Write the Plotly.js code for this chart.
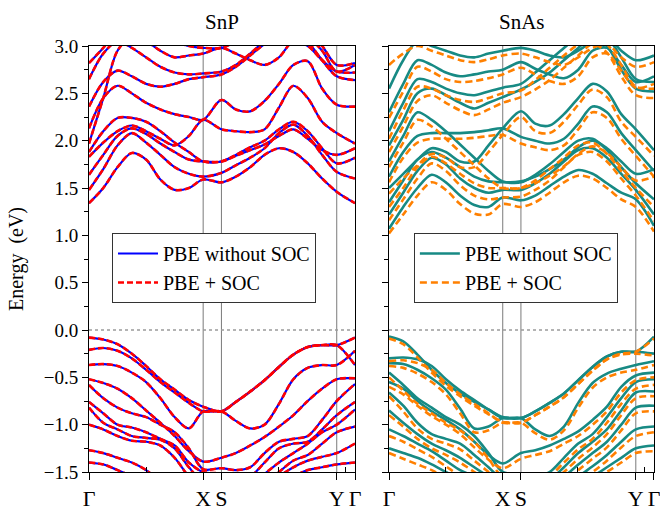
<!DOCTYPE html>
<html>
<head>
<meta charset="utf-8">
<script src="https://cdn.plot.ly/plotly-3.0.1.min.js"></script>
<style>html,body{margin:0;padding:0;background:#fff;}#chart{width:660px;height:511px;}</style>
</head>
<body>
<div id="chart"></div>
<script>
// k-path sample positions (Γ-X, X-S, S-Y, Y-Γ)
const kPath = [0, 0.125, 0.25, 0.375, 0.5, 0.625, 0.75, 0.875, 1.0, 1.16, 1.286, 1.412, 1.538, 1.664, 1.79, 1.916, 2.042, 2.17, 2.33];
const kSym = [0, 1.0, 1.16, 2.17, 2.33];
const kLabels = ['Γ', 'X', 'S', 'Y', 'Γ'];
const topMinorTicks = [0.235, 0.705, 1.175, 1.645, 2.115];
const topMajorTicks = [0.47, 0.94, 1.41, 1.88];
const bottomMinorTicks = [0.5, 1.66, 2.245];
const rightTicks = [2.54, 2.10, 1.66, 1.22, 0.78, 0.34, -0.10, -0.54, -0.98, -1.42];

// ---- SnP bands (PBE without SOC and PBE + SOC coincide) ----
const snpC1 = [1.34,1.50,1.72,1.87,1.80,1.59,1.48,1.50,1.59, 1.56,1.62,1.72,1.85,1.92,1.88,1.76,1.60,1.46,1.34];
const snpC2 = [1.48,1.70,1.95,2.08,1.98,1.85,1.72,1.65,1.62, 1.66,1.74,1.82,1.92,2.08,2.17,2.05,1.85,1.67,1.60];
const snpC3 = [1.64,1.85,2.05,2.13,2.07,1.97,1.88,1.80,1.78, 1.78,1.85,1.93,2.00,2.12,2.20,2.10,1.92,1.76,1.82];
const snpC4 = [1.83,1.98,2.10,2.16,2.10,2.02,1.95,2.05,2.22, 2.12,2.10,2.09,2.12,2.35,2.58,2.45,2.20,2.08,1.97];
const snpC5 = [1.88,2.10,2.24,2.24,2.20,2.10,1.98,1.88,1.78, 1.78,1.84,1.90,1.96,2.05,2.12,2.02,1.90,1.85,1.92];
const snpC6 = [2.13,2.45,2.58,2.50,2.40,2.33,2.28,2.25,2.22, 2.43,2.33,2.31,2.42,2.60,2.80,2.84,2.55,2.38,2.36];
const snpC7 = [2.36,2.62,2.74,2.68,2.60,2.57,2.60,2.65,2.67, 2.70,2.78,2.90,3.02,3.10,3.20,3.10,2.95,2.73,2.80];
const snpC8 = [2.65,2.92,3.05,2.98,2.88,2.78,2.72,2.70,2.71, 2.73,2.80,2.92,3.05,3.15,3.20,3.05,2.85,2.68,2.64];
const snpC9 = [1.97,2.45,2.95,3.10,3.05,2.95,2.88,2.90,2.92, 2.98,2.92,2.85,2.80,2.88,3.05,3.00,2.85,2.73,2.72];
const snpC10 = [2.82,2.98,3.15,3.20,3.15,3.10,3.05,3.00,2.98, 2.98,3.05,3.15,3.20,3.20,3.20,3.15,3.00,2.80,2.82];
const snpV1 = [-0.08,-0.10,-0.15,-0.25,-0.38,-0.52,-0.63,-0.74,-0.81, -0.86,-0.76,-0.65,-0.53,-0.39,-0.26,-0.18,-0.16,-0.16,-0.08];
const snpV2 = [-0.21,-0.19,-0.22,-0.30,-0.42,-0.55,-0.66,-0.77,-0.86, -0.86,-0.96,-1.04,-1.00,-0.78,-0.52,-0.40,-0.37,-0.37,-0.22];
const snpV3 = [-0.37,-0.36,-0.38,-0.45,-0.55,-0.72,-0.92,-1.04,-0.86, -0.86,-0.76,-0.65,-0.53,-0.39,-0.26,-0.18,-0.16,-0.16,-0.37];
const snpV4 = [-0.52,-0.56,-0.62,-0.72,-0.85,-0.98,-1.12,-1.28,-1.39, -1.35,-1.30,-1.22,-1.13,-1.02,-0.90,-0.75,-0.62,-0.52,-0.51];
const snpV5 = [-0.58,-0.72,-0.82,-0.88,-0.92,-1.00,-1.08,-1.25,-1.47, -1.46,-1.48,-1.45,-1.30,-1.18,-1.15,-1.12,-0.95,-0.75,-0.57];
const snpV6 = [-0.76,-0.88,-1.00,-1.03,-1.08,-1.15,-1.22,-1.40,-1.50, -1.52,-1.60,-1.55,-1.40,-1.25,-1.20,-1.18,-1.05,-0.90,-0.76];
const snpV7 = [-0.82,-0.98,-1.05,-1.12,-1.14,-1.16,-1.25,-1.45,-1.60, -1.60,-1.70,-1.65,-1.52,-1.40,-1.30,-1.20,-1.08,-1.00,-0.84];
const snpV8 = [-1.00,-1.05,-1.12,-1.17,-1.18,-1.22,-1.35,-1.55,-1.70, -1.70,-1.80,-1.75,-1.62,-1.50,-1.38,-1.32,-1.20,-1.08,-1.02];
const snpV9 = [-1.27,-1.30,-1.35,-1.40,-1.48,-1.60,-1.70,-1.80,-1.90, -1.90,-1.90,-1.85,-1.70,-1.55,-1.45,-1.38,-1.34,-1.30,-1.20];
const snpV10 = [-1.40,-1.42,-1.48,-1.55,-1.65,-1.75,-1.85,-1.90,-1.95, -1.95,-1.95,-1.90,-1.80,-1.65,-1.55,-1.48,-1.45,-1.42,-1.40];

// ---- SnAs bands: PBE without SOC ----
const snasT1 = [1.07,1.30,1.50,1.64,1.56,1.42,1.32,1.30,1.40, 1.37,1.42,1.52,1.62,1.69,1.65,1.55,1.45,1.38,1.10];
const snasT2 = [1.22,1.45,1.68,1.82,1.75,1.60,1.50,1.45,1.48, 1.48,1.55,1.65,1.78,1.90,1.92,1.82,1.65,1.48,1.22];
const snasT3 = [1.35,1.58,1.80,1.88,1.82,1.72,1.62,1.57,1.56, 1.56,1.64,1.75,1.88,2.00,2.02,1.90,1.72,1.55,1.38];
const snasT4 = [1.50,1.65,1.80,1.92,1.88,1.78,1.78,1.95,2.13, 2.31,2.18,2.16,2.28,2.45,2.60,2.52,2.28,2.12,1.90];
const snasT5 = [1.62,1.88,2.05,2.08,2.08,2.08,2.09,2.11,2.13, 2.04,2.00,1.97,2.02,2.18,2.36,2.30,2.08,1.90,1.68];
const snasT6 = [1.78,2.05,2.30,2.22,2.10,1.96,1.82,1.68,1.57, 1.57,1.62,1.70,1.80,1.93,2.00,1.92,1.78,1.65,1.70];
const snasT7 = [1.95,2.22,2.50,2.55,2.48,2.40,2.34,2.40,2.46, 2.54,2.62,2.72,2.85,2.98,3.10,3.00,2.75,2.55,2.52];
const snasT8 = [2.10,2.40,2.65,2.62,2.55,2.50,2.48,2.52,2.56, 2.60,2.72,2.85,2.98,3.10,3.20,3.10,2.88,2.65,2.62];
const snasT9 = [2.30,2.60,2.85,2.80,2.72,2.68,2.70,2.73,2.75, 2.83,2.76,2.70,2.66,2.75,2.95,2.98,2.80,2.62,2.68];
const snasT10 = [2.55,2.85,3.05,3.00,2.95,2.90,2.88,2.92,2.95, 2.98,2.95,2.90,2.88,2.95,3.05,3.10,2.95,2.85,2.90];
const snasTV1 = [-0.07,-0.12,-0.26,-0.42,-0.56,-0.67,-0.76,-0.84,-0.92, -0.93,-0.86,-0.77,-0.67,-0.53,-0.39,-0.28,-0.23,-0.23,-0.07];
const snasTV2 = [-0.30,-0.29,-0.31,-0.38,-0.52,-0.64,-0.74,-0.84,-0.93, -0.93,-1.05,-1.12,-1.02,-0.77,-0.56,-0.46,-0.41,-0.37,-0.33];
const snasTV3 = [-0.35,-0.36,-0.42,-0.51,-0.63,-0.83,-1.04,-1.02,-0.93, -0.93,-0.86,-0.77,-0.67,-0.53,-0.39,-0.28,-0.23,-0.23,-0.25];
const snasTV4 = [-0.55,-0.62,-0.75,-0.86,-0.95,-1.05,-1.18,-1.32,-1.41, -1.30,-1.27,-1.22,-1.15,-1.07,-0.95,-0.81,-0.60,-0.48,-0.45];
const snasTV5 = [-0.45,-0.58,-0.72,-0.82,-0.92,-1.00,-1.12,-1.30,-1.50, -1.52,-1.55,-1.50,-1.35,-1.20,-1.10,-0.92,-0.72,-0.55,-0.52];
const snasTV6 = [-0.66,-0.80,-0.98,-1.10,-1.15,-1.20,-1.32,-1.45,-1.58, -1.60,-1.62,-1.58,-1.45,-1.30,-1.18,-1.05,-0.85,-0.66,-0.65];
const snasTV7 = [-0.85,-0.98,-1.10,-1.20,-1.27,-1.35,-1.45,-1.55,-1.65, -1.68,-1.70,-1.65,-1.55,-1.42,-1.30,-1.18,-1.00,-0.82,-0.80];
const snasTV8 = [-1.05,-1.12,-1.20,-1.28,-1.38,-1.48,-1.55,-1.65,-1.72, -1.75,-1.78,-1.75,-1.68,-1.55,-1.44,-1.32,-1.18,-1.05,-1.02];
const snasTV9 = [-1.25,-1.30,-1.35,-1.42,-1.50,-1.58,-1.66,-1.75,-1.82, -1.85,-1.85,-1.82,-1.75,-1.65,-1.55,-1.45,-1.35,-1.25,-1.22];

// ---- SnAs bands: PBE + SOC ----
const snasO1 = [1.02,1.22,1.42,1.56,1.48,1.33,1.23,1.22,1.33, 1.30,1.35,1.45,1.56,1.63,1.60,1.50,1.38,1.30,1.04];
const snasO2 = [1.16,1.38,1.60,1.76,1.68,1.53,1.42,1.38,1.40, 1.41,1.48,1.58,1.72,1.85,1.88,1.78,1.60,1.42,1.15];
const snasO3 = [1.30,1.50,1.72,1.83,1.76,1.65,1.55,1.50,1.50, 1.50,1.58,1.70,1.82,1.95,1.98,1.86,1.68,1.50,1.30];
const snasO4 = [1.44,1.60,1.74,1.86,1.82,1.72,1.72,1.88,2.06, 2.25,2.10,2.08,2.20,2.38,2.54,2.46,2.20,2.04,1.84];
const snasO5 = [1.56,1.82,1.98,2.02,2.02,2.02,2.03,2.05,2.06, 1.97,1.93,1.90,1.95,2.12,2.30,2.24,2.02,1.84,1.62];
const snasO6 = [1.72,1.98,2.22,2.15,2.02,1.88,1.74,1.60,1.50, 1.50,1.55,1.63,1.73,1.86,1.94,1.87,1.72,1.58,1.62];
const snasO7 = [1.88,2.15,2.42,2.48,2.40,2.32,2.27,2.33,2.40, 2.46,2.54,2.64,2.77,2.90,3.02,2.93,2.68,2.48,2.45];
const snasO8 = [2.02,2.32,2.57,2.55,2.48,2.43,2.41,2.45,2.50, 2.53,2.64,2.77,2.90,3.02,3.12,3.02,2.80,2.57,2.55];
const snasO9 = [2.24,2.52,2.78,2.73,2.65,2.62,2.63,2.66,2.70, 2.77,2.70,2.63,2.60,2.68,2.88,2.92,2.74,2.56,2.60];
const snasO10 = [2.80,2.92,3.00,2.95,2.90,2.85,2.83,2.86,2.90, 2.92,2.88,2.83,2.80,2.88,2.98,3.02,2.88,2.78,2.83];
const snasOV1 = [-0.09,-0.15,-0.29,-0.45,-0.59,-0.70,-0.80,-0.89,-0.97, -0.98,-0.90,-0.81,-0.71,-0.57,-0.43,-0.31,-0.25,-0.23,-0.09];
const snasOV2 = [-0.33,-0.32,-0.35,-0.42,-0.56,-0.68,-0.78,-0.88,-0.98, -0.98,-1.09,-1.16,-1.06,-0.82,-0.61,-0.50,-0.45,-0.42,-0.37];
const snasOV3 = [-0.38,-0.40,-0.46,-0.55,-0.68,-0.88,-1.08,-1.06,-0.98, -0.98,-0.90,-0.81,-0.71,-0.57,-0.43,-0.31,-0.26,-0.25,-0.27];
const snasOV4 = [-0.60,-0.68,-0.80,-0.91,-1.00,-1.10,-1.24,-1.37,-1.46, -1.36,-1.32,-1.28,-1.20,-1.12,-1.00,-0.86,-0.66,-0.53,-0.50];
const snasOV5 = [-0.50,-0.64,-0.78,-0.88,-0.98,-1.06,-1.18,-1.36,-1.55, -1.56,-1.58,-1.54,-1.40,-1.26,-1.15,-0.98,-0.78,-0.62,-0.58];
const snasOV6 = [-0.70,-0.86,-1.04,-1.15,-1.20,-1.26,-1.38,-1.50,-1.62, -1.64,-1.66,-1.62,-1.50,-1.36,-1.24,-1.10,-0.90,-0.72,-0.70];
const snasOV7 = [-0.90,-1.02,-1.15,-1.25,-1.32,-1.40,-1.50,-1.60,-1.70, -1.72,-1.74,-1.70,-1.60,-1.48,-1.36,-1.24,-1.06,-0.88,-0.86];
const snasOV8 = [-1.12,-1.18,-1.26,-1.34,-1.44,-1.54,-1.60,-1.70,-1.78, -1.80,-1.82,-1.80,-1.72,-1.60,-1.50,-1.38,-1.24,-1.12,-1.08];
const snasOV9 = [-1.30,-1.36,-1.42,-1.48,-1.56,-1.64,-1.72,-1.80,-1.88, -1.90,-1.90,-1.88,-1.80,-1.70,-1.60,-1.50,-1.40,-1.30,-1.28];

const snpBands = [snpC1,snpC2,snpC3,snpC4,snpC5,snpC6,snpC7,snpC8,snpC9,snpC10,snpV1,snpV2,snpV3,snpV4,snpV5,snpV6,snpV7,snpV8,snpV9,snpV10];
const snasNoSOC = [snasT1,snasT2,snasT3,snasT4,snasT5,snasT6,snasT7,snasT8,snasT9,snasT10,snasTV1,snasTV2,snasTV3,snasTV4,snasTV5,snasTV6,snasTV7,snasTV8,snasTV9];
const snasSOC = [snasO1,snasO2,snasO3,snasO4,snasO5,snasO6,snasO7,snasO8,snasO9,snasO10,snasOV1,snasOV2,snasOV3,snasOV4,snasOV5,snasOV6,snasOV7,snasOV8,snasOV9];

const FONT = 'Liberation Serif, Times New Roman, serif';
const BLUE = '#0000ff', RED = '#ff0000', TEAL = '#178a84', ORANGE = '#ff8000';

const traces = [];
function addSet(bands, xa, ya, color, dash, width, name, legend) {
  bands.forEach((b, i) => {
    traces.push({
      x: kPath, y: b, xaxis: xa, yaxis: ya, type: 'scatter', mode: 'lines',
      line: {color: color, width: width, dash: dash, shape: 'spline', smoothing: 0.9},
      name: name, legend: legend, showlegend: i === 0, hoverinfo: 'skip'
    });
  });
}
addSet(snpBands, 'x', 'y', BLUE, 'solid', 2.2, 'PBE without SOC', 'legend');
addSet(snpBands, 'x', 'y', RED, '6px,3px', 2.6, 'PBE + SOC', 'legend');
addSet(snasNoSOC, 'x2', 'y2', TEAL, 'solid', 2.6, 'PBE without SOC', 'legend2');
addSet(snasSOC, 'x2', 'y2', ORANGE, '7px,4px', 2.6, 'PBE + SOC', 'legend2');

const D1 = [0, 0.4708], D2 = [0.531, 1];
const baseX = {
  range: [0, 2.33], tickmode: 'array', tickvals: kSym, ticktext: kLabels, ticklabeloverflow: 'allow',
  ticks: 'outside', ticklen: 7, tickcolor: '#000', showline: true, linecolor: '#000', linewidth: 1,
  mirror: true, showgrid: false, zeroline: false, tickfont: {family: FONT, size: 22, color: '#000'},
  minor: {tickmode: 'array', tickvals: bottomMinorTicks, ticks: 'inside', ticklen: 5, tickcolor: '#000', showgrid: false}
};
const baseY = {
  range: [-1.5, 3.0], dtick: 0.5, tick0: 0, tickformat: '.1f', ticks: 'outside', ticklen: 6, tickcolor: '#000',
  showline: true, linecolor: '#000', linewidth: 1, mirror: true, showgrid: false, zeroline: false,
  tickfont: {family: FONT, size: 19, color: '#000'},
  minor: {dtick: 0.25, ticks: 'outside', ticklen: 4, tickcolor: '#000', showgrid: false}
};
const topAxis = (ov, dom) => ({
  overlaying: ov, side: 'top', range: [0, 2.33], domain: dom, showline: false, showgrid: false, zeroline: false,
  tickmode: 'array', tickvals: topMajorTicks, ticks: 'inside', ticklen: 6, tickcolor: '#000', showticklabels: false,
  minor: {tickmode: 'array', tickvals: topMinorTicks, ticks: 'inside', ticklen: 4, tickcolor: '#000', showgrid: false}
});
const rightAxis = (ov) => ({
  overlaying: ov, side: 'right', range: [-1.5, 3.0], showline: false, showgrid: false, zeroline: false,
  tickmode: 'array', tickvals: rightTicks, ticks: 'inside', ticklen: 6, tickcolor: '#000', showticklabels: false
});

const shapes = [];
[['x','y'],['x2','y2']].forEach(([xa, ya]) => {
  kSym.slice(1, 4).forEach(k => {
    shapes.push({type: 'line', xref: xa, yref: ya + ' domain', x0: k, x1: k, y0: 0, y1: 1,
      line: {color: '#7a7a7a', width: 1}, layer: 'below'});
  });
  shapes.push({type: 'line', xref: xa + ' domain', yref: ya, x0: 0, x1: 1, y0: 0, y1: 0,
    line: {color: '#9a9a9a', width: 1.5, dash: 'dot'}, layer: 'below'});
});

const legendBase = {
  y: 0.561, yanchor: 'top', xanchor: 'left', bgcolor: '#fff', bordercolor: '#333', borderwidth: 1,
  font: {family: FONT, size: 20, color: '#000'}, tracegroupgap: 0, itemwidth: 40
};

const layout = {
  width: 660, height: 511, margin: {l: 89, r: 6, t: 46, b: 39},
  paper_bgcolor: '#fff', plot_bgcolor: '#fff', showlegend: true,
  xaxis: Object.assign({}, baseX, {domain: D1, anchor: 'y'}),
  yaxis: Object.assign({}, baseY, {anchor: 'x',
    title: {text: 'Energy  (eV)', font: {family: FONT, size: 20, color: '#000'}, standoff: 14}}),
  xaxis2: Object.assign({}, baseX, {domain: D2, anchor: 'y2'}),
  yaxis2: Object.assign({}, baseY, {anchor: 'x2', showticklabels: false}),
  xaxis3: Object.assign(topAxis('x', D1), {anchor: 'y'}),
  xaxis4: Object.assign(topAxis('x2', D2), {anchor: 'y2'}),
  yaxis3: Object.assign(rightAxis('y'), {anchor: 'x'}),
  yaxis4: Object.assign(rightAxis('y2'), {anchor: 'x2'}),
  legend: Object.assign({}, legendBase, {x: 0.0407}),
  legend2: Object.assign({}, legendBase, {x: 0.575}),
  shapes: shapes,
  annotations: [
    {text: 'SnP', xref: 'x domain', yref: 'paper', x: 0.5, y: 1, yshift: 38, showarrow: false,
     font: {family: FONT, size: 21, color: '#000'}},
    {text: 'SnAs', xref: 'x2 domain', yref: 'paper', x: 0.5, y: 1, yshift: 38, showarrow: false,
     font: {family: FONT, size: 21, color: '#000'}}
  ]
};

Plotly.newPlot('chart', traces, layout, {displayModeBar: false, staticPlot: true});
</script>
</body>
</html>
